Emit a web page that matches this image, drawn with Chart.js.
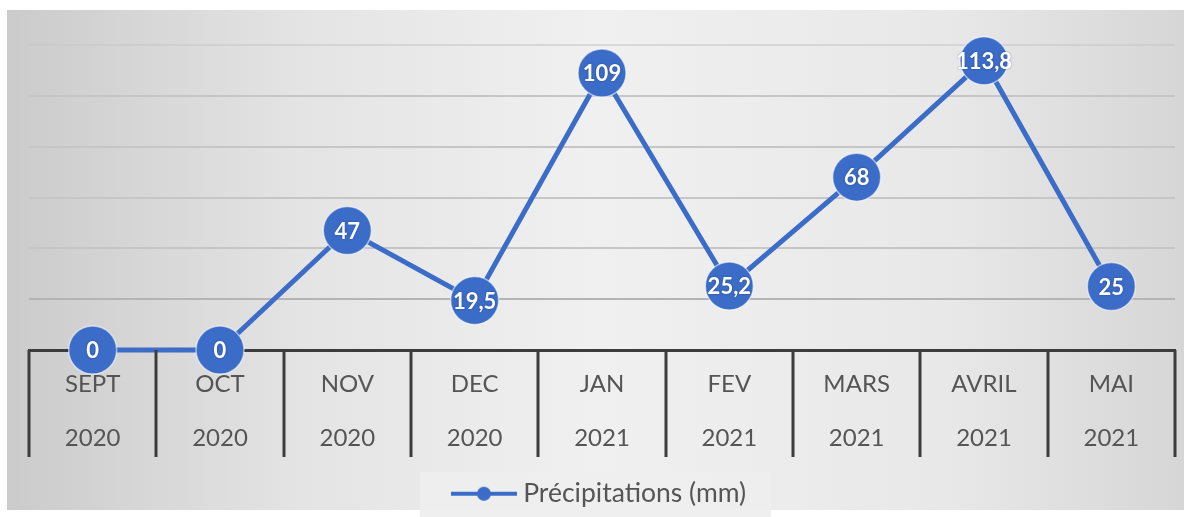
<!DOCTYPE html>
<html>
<head>
<meta charset="utf-8">
<script src="https://cdn.jsdelivr.net/npm/chart.js@4"></script>
<style>
  html, body { margin: 0; padding: 0; background: #fff; }
  #wrap { position: relative; width: 1184px; height: 517px; }
  #bg {
    position: absolute; left: 7px; top: 10px; width: 1177px; height: 500px;
    background: linear-gradient(90deg, #cbcbcb 0%, #e4e4e4 25%, #f0f0f0 50%, #e8e8e8 80%, #d6d6d6 100%);
  }
  canvas { position: absolute; left: 0; top: 0; }
</style>
</head>
<body>
<div id="wrap">
  <div id="bg"></div>
  <canvas id="rainChart" width="1184" height="517"></canvas>
</div>
<script>
const months = ['SEPT', 'OCT', 'NOV', 'DEC', 'JAN', 'FEV', 'MARS', 'AVRIL', 'MAI'];
const years = ['2020', '2020', '2020', '2020', '2021', '2021', '2021', '2021', '2021'];
const rain = [0, 0, 47, 19.5, 109, 25.2, 68, 113.8, 25];
const rainLabels = ['0', '0', '47', '19,5', '109', '25,2', '68', '113,8', '25'];
const seriesName = 'Précipitations (mm)';

const BLUE = '#3b6cc8';
const TEXT = '#555555';
const AXIS = '#3c3c3c';

// small legend symbol: line with a dot
function legendSymbol() {
  const c = document.createElement('canvas');
  c.width = 66; c.height = 16;
  const g = c.getContext('2d');
  g.strokeStyle = BLUE; g.lineWidth = 4;
  g.beginPath(); g.moveTo(0, 8); g.lineTo(66, 8); g.stroke();
  g.fillStyle = BLUE;
  g.beginPath(); g.arc(33, 8, 7, 0, Math.PI * 2); g.fill();
  return c;
}

// category separators hanging below the x axis
const separators = {
  id: 'separators',
  afterDraw(chart) {
    const x = chart.scales.x;
    const { ctx } = chart;
    const n = x.ticks.length;
    const half = (x.getPixelForValue(1) - x.getPixelForValue(0)) / 2;
    ctx.save();
    ctx.strokeStyle = AXIS;
    ctx.lineWidth = 3;
    for (let i = 0; i <= n; i++) {
      const px = Math.round(x.getPixelForValue(0) - half + i * half * 2);
      ctx.beginPath();
      ctx.moveTo(px, x.top);
      ctx.lineTo(px, x.top + 107);
      ctx.stroke();
    }
    ctx.restore();
  }
};

const valueLabels = {
  id: 'valueLabels',
  afterDatasetsDraw(chart) {
    const { ctx } = chart;
    const meta = chart.getDatasetMeta(0);
    ctx.save();
    ctx.font = 'bold 22px Lato';
    ctx.fillStyle = '#ffffff';
    ctx.textAlign = 'center';
    ctx.textBaseline = 'middle';
    ctx.shadowColor = 'rgba(20,40,90,0.5)';
    ctx.shadowBlur = 2;
    meta.data.forEach((pt, i) => {
      ctx.fillText(rainLabels[i], pt.x, pt.y + 1);
    });
    ctx.restore();
  }
};

const legendBox = {
  id: 'legendBox',
  beforeDraw(chart) {
    const lg = chart.legend;
    if (!lg || !lg.legendHitBoxes.length) return;
    const hb = lg.legendHitBoxes[0];
    const { ctx } = chart;
    ctx.save();
    ctx.fillStyle = 'rgba(238,238,238,0.95)';
    ctx.fillRect(hb.left - 38, 472, hb.width + 63, 45);
    ctx.restore();
  }
};

new Chart(document.getElementById('rainChart'), {
  type: 'line',
  data: {
    labels: months.map((m, i) => [m, years[i]]),
    datasets: [{
      label: seriesName,
      data: rain,
      borderColor: BLUE,
      backgroundColor: BLUE,
      borderWidth: 5,
      pointRadius: 24,
      pointBackgroundColor: BLUE,
      pointBorderColor: 'rgba(255,255,255,0.55)',
      pointBorderWidth: 1.5,
      tension: 0,
      clip: false
    }]
  },
  options: {
    responsive: false,
    animation: false,
    events: [],
    layout: { autoPadding: false, padding: { left: 29, right: 9, top: 45, bottom: 0 } },
    plugins: {
      tooltip: { enabled: false },
      legend: {
        position: 'bottom',
        labels: {
          color: TEXT,
          font: { family: 'Lato', size: 26.5 },
          usePointStyle: true,
          pointStyleWidth: 52,
          padding: 6,
          generateLabels: () => [{
            text: seriesName,
            pointStyle: legendSymbol(),
            fontColor: TEXT,
            datasetIndex: 0
          }]
        }
      }
    },
    scales: {
      x: {
        offset: true,
        border: { display: true, color: AXIS, width: 3 },
        grid: { offset: true, drawOnChartArea: false, drawTicks: false },
        ticks: {
          color: TEXT,
          padding: 7,
          maxRotation: 0,
          autoSkip: false,
          font: { family: 'Lato', size: 24, lineHeight: 2.25 }
        },
        afterFit: (scale) => {
          const lg = scale.chart.legend;
          scale.height = 517 - 350 - (lg ? lg.height : 0);
          scale.paddingLeft = 0;
          scale.paddingRight = 0;
        }
      },
      y: {
        min: 0,
        max: 120,
        border: { display: false },
        grid: {
          drawTicks: false,
          lineWidth: 2,
          color: (c) => c.tick.value === 120 ? 'rgba(200,200,200,0.6)' : (c.tick.value === 20 ? '#b4b4b4' : '#c6c6c6')
        },
        ticks: { display: false, stepSize: 20 }
      }
    }
  },
  plugins: [legendBox, separators, valueLabels]
});
</script>
</body>
</html>
